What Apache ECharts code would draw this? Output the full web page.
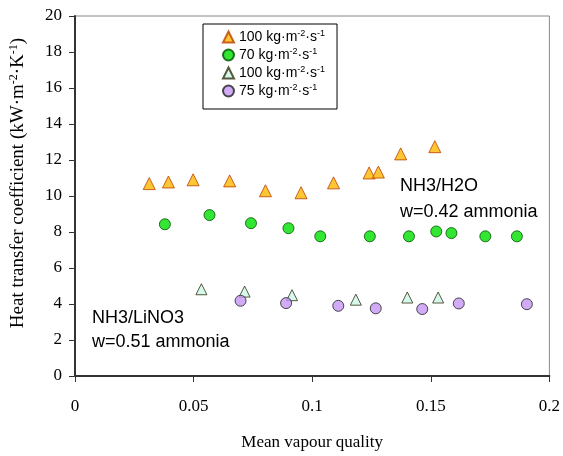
<!DOCTYPE html>
<html>
<head>
<meta charset="utf-8">
<script src="https://cdn.jsdelivr.net/npm/echarts@6/dist/echarts.min.js"></script>
<style>
	html, body { margin: 0; padding: 0; background: #fff; }
	#chart { width: 563px; height: 456px; }
</style>
</head>
<body>
<div id="chart"></div>
<script>
// NH3/H2O, 100 kg/m2s (triangles)
var h2oTriX = [0.0313, 0.0394, 0.0498, 0.0652, 0.0803, 0.0953, 0.109, 0.124, 0.1279, 0.1373, 0.1517];
var h2oTriY = [10.69, 10.78, 10.90, 10.84, 10.29, 10.18, 10.73, 11.28, 11.33, 12.34, 12.74];
// NH3/H2O, 70 kg/m2s (circles)
var h2oCircX = [0.0379, 0.0567, 0.0742, 0.0900, 0.1034, 0.1243, 0.1408, 0.1523, 0.1587, 0.1730, 0.1863];
var h2oCircY = [8.43, 8.94, 8.49, 8.21, 7.76, 7.76, 7.76, 8.03, 7.94, 7.76, 7.76];
// NH3/LiNO3, 100 kg/m2s (triangles)
var linoTriX = [0.0533, 0.0715, 0.0915, 0.1184, 0.1401, 0.1531];
var linoTriY = [4.82, 4.69, 4.49, 4.24, 4.36, 4.36];
// NH3/LiNO3, 75 kg/m2s (circles)
var linoCircX = [0.0698, 0.0890, 0.1110, 0.1268, 0.1464, 0.1618, 0.1905];
var linoCircY = [4.18, 4.05, 3.90, 3.76, 3.72, 4.03, 3.99];

var seriesNames = ['h2o100', 'h2o70', 'lino100', 'lino75'];
var legendLabels = [
	'{t|100 kg·m}{s|-2}{t|·s}{s|-1}',
	'{t|70 kg·m}{s|-2}{t|·s}{s|-1}',
	'{t|100 kg·m}{s|-2}{t|·s}{s|-1}',
	'{t|75 kg·m}{s|-2}{t|·s}{s|-1}'
];
var xTicks = [0, 0.05, 0.1, 0.15, 0.2];

function pairs(xs, ys) {
	return xs.map(function(x, i) { return [x, ys[i]]; });
}

var serif = 'Liberation Serif';
var sans = 'Liberation Sans';

var chart = echarts.init(document.getElementById('chart'));
chart.setOption({
	animation: false,
	backgroundColor: '#fff',
	grid: {
		left: 75,
		right: 12,
		top: 16,
		bottom: 77,
		show: true,
		borderColor: '#888',
		borderWidth: 1
	},
	legend: {
		orient: 'vertical',
		left: 203,
		top: 24,
		itemWidth: 11,
		itemHeight: 11,
		itemGap: 3,
		padding: [5, 12, 11, 19],
		borderColor: '#000',
		borderWidth: 1,
		data: seriesNames,
		formatter: function(name) {
			return legendLabels[seriesNames.indexOf(name)];
		},
		textStyle: {
			rich: {
				t: { fontFamily: sans, fontSize: 14, color: '#000' },
				s: { fontFamily: sans, fontSize: 9, color: '#000', padding: [0, 0, 7, 0] }
			}
		}
	},
	xAxis: {
		type: 'value',
		min: 0,
		max: 0.2,
		interval: 0.05,
		name: 'Mean vapour quality',
		nameLocation: 'middle',
		nameGap: 58,
		nameTextStyle: { fontFamily: serif, fontSize: 17, color: '#000' },
		axisLine: { onZero: false, lineStyle: { color: '#333', width: 2 } },
		axisTick: { show: true, inside: false, length: 6, lineStyle: { color: '#333' } },
		axisLabel: {
			margin: 22,
			fontFamily: serif,
			fontSize: 17,
			color: '#000',
			formatter: function(v) {
				var hit = xTicks.filter(function(t) { return Math.abs(t - v) < 1e-9; });
				return hit.length ? String(hit[0]) : '';
			}
		},
		splitLine: { show: false }
	},
	yAxis: {
		type: 'value',
		min: 0,
		max: 20,
		interval: 2,
		name: '{t|Heat transfer coefficient (kW·m}{s|-2}{t|·K}{s|-1}{t|)}',
		nameLocation: 'middle',
		nameGap: 46,
		nameTextStyle: {
			color: '#000',
			padding: [0, 0, 0, 26],
			rich: {
				t: { fontFamily: serif, fontSize: 19, color: '#000' },
				s: { fontFamily: serif, fontSize: 12, color: '#000', padding: [0, 0, 9, 0] }
			}
		},
		axisLine: { onZero: false, lineStyle: { color: '#333', width: 2 } },
		axisTick: { show: true, inside: false, length: 6, lineStyle: { color: '#333' } },
		axisLabel: {
			margin: 13,
			fontFamily: serif,
			fontSize: 17,
			color: '#000'
		},
		splitLine: { show: false }
	},
	series: [{
		name: 'h2o100',
		type: 'scatter',
		symbol: 'triangle',
		symbolSize: 12,
		itemStyle: { color: '#FFB800', borderColor: '#B84000', borderWidth: 1 },
		data: pairs(h2oTriX, h2oTriY)
	}, {
		name: 'h2o70',
		type: 'scatter',
		symbol: 'circle',
		symbolSize: 11,
		itemStyle: { color: '#00E000', borderColor: '#005000', borderWidth: 1 },
		data: pairs(h2oCircX, h2oCircY)
	}, {
		name: 'lino100',
		type: 'scatter',
		symbol: 'triangle',
		symbolSize: 11,
		itemStyle: { color: '#CCF8E8', borderColor: '#303010', borderWidth: 1 },
		data: pairs(linoTriX, linoTriY)
	}, {
		name: 'lino75',
		type: 'scatter',
		symbol: 'circle',
		symbolSize: 11,
		itemStyle: { color: '#C596F2', borderColor: '#202020', borderWidth: 1 },
		data: pairs(linoCircX, linoCircY)
	}],
	graphic: [{
		type: 'text',
		left: 400,
		top: 173,
		style: {
			text: 'NH3/H2O\nw=0.42 ammonia',
			font: '18px "Liberation Sans"',
			lineHeight: 26,
			fill: '#000'
		}
	}, {
		type: 'text',
		left: 92,
		top: 306,
		style: {
			text: 'NH3/LiNO3\nw=0.51 ammonia',
			font: '18px "Liberation Sans"',
			lineHeight: 24,
			fill: '#000'
		}
	}]
});
</script>
</body>
</html>
